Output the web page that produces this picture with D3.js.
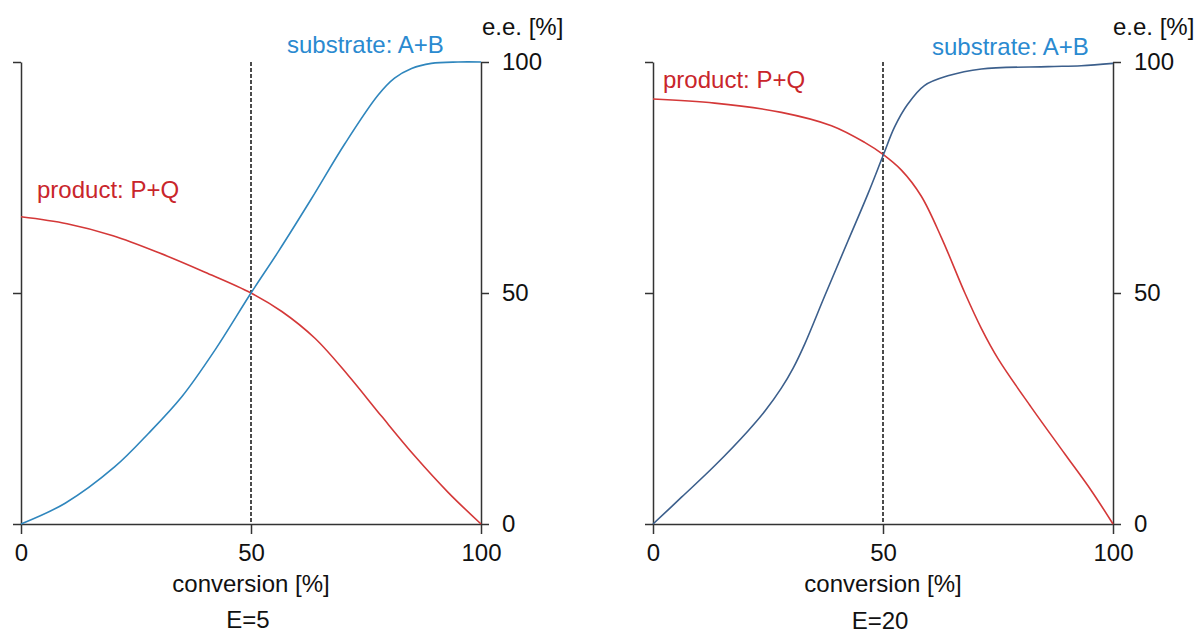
<!DOCTYPE html>
<html>
<head>
<meta charset="utf-8">
<script src="https://cdn.jsdelivr.net/npm/d3@7"></script>
<style>
  html, body { margin: 0; padding: 0; background: #fff; }
  svg text { font-family: "Liberation Sans", Arial, Helvetica, sans-serif; fill: #111; }
</style>
</head>
<body>
<div id="chart"></div>
<script>
// Tick values shared by both axes
const axisTicks = [0, 50, 100];

// E=5 panel: [conversion %, e.e. %]
const substrateE5 = [[0, 0], [9.6, 4.5], [20.4, 12.4], [27.7, 19.6], [35, 27.6], [42.2, 37.7], [50, 50],
    [55.9, 58.9], [63.2, 70.5], [70.4, 82.3], [77.6, 92.8], [81.2, 96.5], [84.9, 98.6], [89.2, 99.7], [95, 100], [100, 100]];
const productE5 = [[0, 66.5], [10, 65], [20, 62.4], [30, 58.7], [40, 54.5], [50, 50], [56.7, 46],
    [63.9, 40.2], [71.2, 32.1], [78.4, 23.3], [85.7, 14.6], [92.9, 6.8], [100, 0]];

// E=20 panel
const substrateE20 = [[0, 0], [6.2, 5.8], [13.4, 12.6], [20.7, 20.2], [24.3, 24.4], [27.9, 29.4], [30.5, 33.8],
    [33, 39], [37.3, 49.3], [42.4, 61.3], [46.7, 71.4], [50, 79.7], [52.5, 85.9], [55.4, 90.9], [59, 94.9],
    [64.1, 97], [71.4, 98.5], [85.9, 99], [93.1, 99.2], [100, 99.7]];
const productE20 = [[0, 92], [13.4, 91.1], [27.9, 89.1], [38.8, 86.2], [46, 82.6], [50, 80], [54, 76.6],
    [58.3, 71], [62.7, 62], [67.8, 50], [71.4, 42.3], [75, 35.8], [82.2, 25.3], [89.5, 15.2], [95.3, 7.2], [100, 0]];

const panels = [
    { title: 'E=5', left: 21, substrate: substrateE5, product: productE5, subColor: '#2f86bd',
      subLabel: [287, 53], prodLabel: [37, 198], titleY: 628, eeX: 482 },
    { title: 'E=20', left: 653, substrate: substrateE20, product: productE20, subColor: '#3c5f8c',
      subLabel: [932, 55], prodLabel: [663, 88], titleY: 629, eeX: 1113 }
];

const width = 1200, height = 634;
const plotW = 460, plotTop = 62, plotBottom = 524;
const axisColor = '#333';

const svg = d3.select('#chart').append('svg')
    .attr('width', width)
    .attr('height', height);

panels.forEach(p => {
    const x = d3.scaleLinear().domain([0, 100]).range([p.left, p.left + plotW]);
    const y = d3.scaleLinear().domain([0, 100]).range([plotBottom, plotTop]);
    const g = svg.append('g');

    // Left axis, ticks only
    const leftAxis = g.append('g')
        .attr('transform', `translate(${x(0)},0)`)
        .call(d3.axisLeft(y).tickValues(axisTicks).tickSize(8).tickSizeOuter(0).tickFormat(''));

    // Right axis with labels
    const rightAxis = g.append('g')
        .attr('transform', `translate(${x(100)},0)`)
        .call(d3.axisRight(y).tickValues(axisTicks).tickSize(8).tickSizeOuter(0).tickPadding(13));

    // Bottom axis
    const xAxis = g.append('g')
        .attr('transform', `translate(0,${y(0)})`)
        .call(d3.axisBottom(x).tickValues(axisTicks).tickSize(10).tickSizeOuter(0).tickPadding(10));

    [leftAxis, rightAxis, xAxis].forEach(a => {
        a.selectAll('path, line').attr('stroke', axisColor).attr('stroke-width', 1.5);
        a.selectAll('text').style('font-size', '24px').attr('fill', '#111');
    });

    // Dashed line at 50% conversion
    g.append('line')
        .attr('x1', x(50)).attr('x2', x(50))
        .attr('y1', y(100)).attr('y2', y(0))
        .attr('stroke', '#111')
        .attr('stroke-width', 1.5)
        .attr('stroke-dasharray', '4,2');

    const line = d3.line()
        .x(d => x(d[0]))
        .y(d => y(d[1]))
        .curve(d3.curveCatmullRom.alpha(0.5));

    g.append('path')
        .datum(p.product)
        .attr('d', line)
        .attr('fill', 'none')
        .attr('stroke', '#d43838')
        .attr('stroke-width', 1.6);

    g.append('path')
        .datum(p.substrate)
        .attr('d', line)
        .attr('fill', 'none')
        .attr('stroke', p.subColor)
        .attr('stroke-width', 1.6);

    // Labels
    g.append('text')
        .attr('x', p.subLabel[0]).attr('y', p.subLabel[1])
        .style('font-size', '24px')
        .style('fill', '#2a8ad0')
        .text('substrate: A+B');

    g.append('text')
        .attr('x', p.prodLabel[0]).attr('y', p.prodLabel[1])
        .style('font-size', '24px')
        .style('fill', '#c9252b')
        .text('product: P+Q');

    g.append('text')
        .attr('x', p.eeX).attr('y', 35)
        .style('font-size', '24px')
        .text('e.e. [%]');

    g.append('text')
        .attr('x', x(50)).attr('y', 592)
        .attr('text-anchor', 'middle')
        .style('font-size', '24px')
        .text('conversion [%]');

    g.append('text')
        .attr('x', x(50) - 3).attr('y', p.titleY)
        .attr('text-anchor', 'middle')
        .style('font-size', '24px')
        .text(p.title);
});
</script>
</body>
</html>
